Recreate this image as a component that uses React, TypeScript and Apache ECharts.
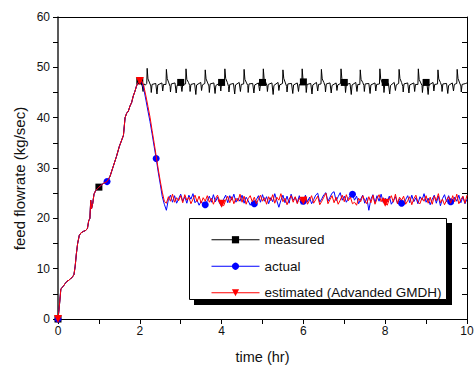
import React, { useEffect, useRef } from "react";
import * as echarts from "echarts";

const FONT = "'Liberation Sans', Arial, sans-serif";

// Shared start-up ramp (hr, kg/sec)
const rampHours = [0, 0.02, 0.04, 0.07, 0.12, 0.18, 0.22, 0.27, 0.3, 0.34, 0.39, 0.42, 0.45, 0.48, 0.52, 0.56, 0.62, 0.68, 0.72, 0.75, 0.78, 0.8, 0.82, 0.85, 0.88, 0.92, 1.0, 1.06, 1.12, 1.2, 1.27, 1.35, 1.43, 1.5, 1.56, 1.6, 1.64, 1.68, 1.72, 1.76, 1.8, 1.84, 1.88, 1.92, 1.96, 2.0];
const rampFlow = [0, 1.5, 3.2, 6.0, 6.4, 7.1, 7.5, 7.7, 8.0, 8.2, 8.8, 10.5, 13.0, 15.0, 16.6, 17.1, 17.4, 17.6, 18.0, 19.5, 20.0, 23.6, 21.9, 23.0, 24.8, 25.5, 26.2, 26.6, 27.0, 27.3, 28.3, 30.3, 32.3, 34.3, 35.6, 36.5, 40.0, 40.9, 41.3, 42.3, 43.0, 44.3, 45.2, 46.3, 47.0, 47.3];

// Measured flow after the ramp
const measuredHours = [
  2.03, 2.06, 2.08, 2.10, 2.14,
  2.17, 2.18, 2.20, 2.24, 2.27, 2.28, 2.30, 2.39, 2.42, 2.44, 2.54, 2.56, 2.58,
  2.64, 2.65, 2.67, 2.71, 2.74, 2.75, 2.77, 2.86, 2.89, 2.91, 3.00, 3.03, 3.05,
  3.12, 3.13, 3.15, 3.19, 3.22, 3.23, 3.25, 3.34, 3.37, 3.39, 3.49, 3.51, 3.53,
  3.59, 3.60, 3.62, 3.66, 3.69, 3.70, 3.72, 3.81, 3.84, 3.86, 3.96, 3.98, 4.00, 4.03,
  4.07, 4.08, 4.10, 4.14, 4.17, 4.18, 4.20, 4.29, 4.32, 4.34, 4.43, 4.46, 4.48,
  4.54, 4.55, 4.57, 4.61, 4.64, 4.65, 4.67, 4.76, 4.79, 4.81, 4.90, 4.93, 4.95, 5.00,
  5.01, 5.02, 5.04, 5.08, 5.11, 5.12, 5.14, 5.23, 5.26, 5.28, 5.38, 5.40, 5.42,
  5.49, 5.50, 5.52, 5.56, 5.59, 5.60, 5.62, 5.71, 5.74, 5.76, 5.85, 5.88, 5.90,
  5.96, 5.97, 5.99, 6.00, 6.03, 6.06, 6.07, 6.09, 6.18, 6.21, 6.23, 6.32, 6.35, 6.37,
  6.43, 6.44, 6.46, 6.50, 6.53, 6.54, 6.56, 6.65, 6.68, 6.70, 6.80, 6.82, 6.84,
  6.91, 6.92, 6.94, 6.98, 7.00, 7.02, 7.03, 7.05, 7.14, 7.17, 7.19, 7.28, 7.31, 7.33,
  7.38, 7.39, 7.41, 7.45, 7.48, 7.49, 7.51, 7.60, 7.63, 7.65, 7.75, 7.77, 7.79,
  7.86, 7.87, 7.89, 7.93, 7.96, 7.97, 7.99, 8.00, 8.08, 8.11, 8.13, 8.22, 8.25, 8.27,
  8.33, 8.34, 8.36, 8.40, 8.43, 8.44, 8.46, 8.55, 8.58, 8.60, 8.70, 8.72, 8.74,
  8.80, 8.81, 8.83, 8.87, 8.90, 8.91, 8.93, 9.00, 9.02, 9.05, 9.07, 9.17, 9.19, 9.21,
  9.28, 9.29, 9.31, 9.35, 9.38, 9.39, 9.41, 9.50, 9.53, 9.55, 9.64, 9.67, 9.69,
  9.75, 9.76, 9.78, 9.82, 9.85, 9.86, 9.88, 9.97, 10.00,
];
const measuredFlow = [
  46.8, 46.3, 45.2, 46.7, 46.5,
  46.8, 49.8, 47.7, 46.9, 46.3, 45.0, 46.6, 46.8, 44.7, 46.5, 46.9, 45.3, 46.6,
  46.6, 49.6, 47.8, 46.9, 46.2, 45.1, 46.7, 46.9, 44.9, 46.4, 47.0, 45.2, 46.6,
  46.7, 49.7, 47.6, 47.0, 46.4, 45.2, 46.6, 46.8, 44.6, 46.5, 47.0, 45.4, 46.5,
  46.8, 49.5, 47.7, 46.9, 46.3, 45.0, 46.7, 46.9, 44.8, 46.4, 46.9, 45.3, 47.0, 46.6,
  46.6, 49.7, 47.8, 47.0, 46.2, 45.1, 46.6, 46.8, 44.7, 46.5, 47.0, 45.2, 46.6,
  46.7, 49.6, 47.6, 46.9, 46.4, 45.0, 46.7, 46.8, 44.9, 46.5, 46.9, 45.3, 46.6, 47.0,
  46.7, 49.7, 47.7, 47.0, 46.3, 45.2, 46.6, 46.9, 44.6, 46.4, 47.0, 45.4, 46.5,
  46.8, 49.5, 47.8, 46.9, 46.2, 45.1, 46.7, 46.8, 44.8, 46.5, 46.9, 45.2, 46.6,
  46.6, 49.7, 47.6, 47.1, 46.9, 46.4, 45.0, 46.6, 46.8, 44.7, 46.5, 47.0, 45.3, 46.6,
  46.7, 49.6, 47.7, 47.0, 46.3, 45.1, 46.7, 46.9, 44.9, 46.4, 46.9, 45.4, 46.5,
  46.8, 49.7, 47.8, 46.9, 47.0, 46.3, 45.0, 46.6, 46.8, 44.6, 46.5, 47.0, 45.2, 46.6,
  46.6, 49.5, 47.6, 47.0, 46.4, 45.2, 46.7, 46.8, 44.8, 46.5, 46.9, 45.3, 46.6,
  46.7, 49.7, 47.7, 46.9, 46.3, 45.0, 46.6, 47.0, 46.8, 44.7, 46.4, 47.0, 45.4, 46.5,
  46.8, 49.6, 47.8, 47.0, 46.2, 45.1, 46.7, 46.9, 44.9, 46.5, 46.9, 45.2, 46.6,
  46.6, 49.7, 47.6, 46.9, 46.4, 45.0, 46.6, 47.0, 46.8, 44.6, 46.5, 47.0, 45.3, 46.6,
  46.7, 49.5, 47.7, 47.0, 46.3, 45.2, 46.7, 46.8, 44.8, 46.4, 46.9, 45.3, 46.6,
  46.8, 49.6, 47.8, 46.9, 46.3, 45.1, 46.6, 46.8, 46.9,
];

// Actual / estimated flow after the ramp, sampled every 0.05 hr
const steadyHours = [
  2.05, 2.1, 2.15, 2.2, 2.25, 2.3, 2.35, 2.4, 2.45, 2.5, 2.55, 2.6, 2.65, 2.7, 2.75, 2.8, 2.85, 2.9, 2.95,
  3.0, 3.05, 3.1, 3.15, 3.2, 3.25, 3.3, 3.35, 3.4, 3.45, 3.5, 3.55, 3.6, 3.65, 3.7, 3.75, 3.8, 3.85, 3.9, 3.95,
  4.0, 4.05, 4.1, 4.15, 4.2, 4.25, 4.3, 4.35, 4.4, 4.45, 4.5, 4.55, 4.6, 4.65, 4.7, 4.75, 4.8, 4.85, 4.9, 4.95,
  5.0, 5.05, 5.1, 5.15, 5.2, 5.25, 5.3, 5.35, 5.4, 5.45, 5.5, 5.55, 5.6, 5.65, 5.7, 5.75, 5.8, 5.85, 5.9, 5.95,
  6.0, 6.05, 6.1, 6.15, 6.2, 6.25, 6.3, 6.35, 6.4, 6.45, 6.5, 6.55, 6.6, 6.65, 6.7, 6.75, 6.8, 6.85, 6.9, 6.95,
  7.0, 7.05, 7.1, 7.15, 7.2, 7.25, 7.3, 7.35, 7.4, 7.45, 7.5, 7.55, 7.6, 7.65, 7.7, 7.75, 7.8, 7.85, 7.9, 7.95,
  8.0, 8.05, 8.1, 8.15, 8.2, 8.25, 8.3, 8.35, 8.4, 8.45, 8.5, 8.55, 8.6, 8.65, 8.7, 8.75, 8.8, 8.85, 8.9, 8.95,
  9.0, 9.05, 9.1, 9.15, 9.2, 9.25, 9.3, 9.35, 9.4, 9.45, 9.5, 9.55, 9.6, 9.65, 9.7, 9.75, 9.8, 9.85, 9.9, 9.95,
  10.0,
];
const actualFlow = [
  47.1, 45.6, 43.5, 41.3, 39.2, 36.8, 34.3, 31.9, 29.2, 26.8, 24.3, 22.8, 21.6, 23.8, 24.6, 23.2, 24.5, 23.0, 23.9,
  24.8, 23.4, 24.3, 23.0, 24.6, 23.8, 24.9, 23.1, 23.6, 22.6, 23.4, 22.8, 22.7, 23.5, 24.4, 23.2, 24.7, 23.3, 24.2, 23.0,
  22.4, 23.8, 24.6, 23.1, 24.5, 23.6, 24.8, 23.2, 24.0, 23.4, 24.6, 23.0, 24.2, 23.5, 22.6, 23.3, 22.9, 23.7, 24.5, 23.2,
  24.7, 23.4, 24.3, 22.9, 24.1, 23.3, 24.9, 23.5, 22.2, 23.6, 24.6, 23.1, 24.4, 23.0, 24.8, 23.6, 24.2, 23.1, 24.5, 22.8,
  23.4, 24.6, 23.3, 24.2, 22.9, 23.7, 24.6, 25.0, 23.2, 23.9, 24.7, 25.1, 23.4, 24.2, 25.0, 25.3, 23.5, 24.3, 25.1, 23.6,
  24.4, 23.2, 24.0, 24.5, 24.8, 23.6, 24.4, 22.9, 23.8, 24.6, 23.0, 24.1, 21.6, 23.8, 24.7, 23.1, 24.5, 23.4, 24.8, 23.2,
  24.0, 23.3, 24.4, 22.8, 23.5, 24.3, 23.0, 23.9, 23.0, 22.6, 23.7, 24.5, 23.1, 24.6, 23.3, 24.1, 22.9, 24.3, 23.6, 24.9,
  23.2, 24.0, 22.7, 23.8, 24.6, 23.0, 24.4, 22.5, 23.9, 24.7, 23.3, 24.5, 23.3, 22.8, 24.2, 23.4, 24.6, 23.1, 24.3, 22.9,
  23.8,
];
const estimatedFlow = [
  47.3, 46.2, 44.3, 42.2, 40.1, 37.5, 35.0, 32.4, 29.8, 27.4, 25.2, 23.4, 23.0, 24.3, 23.4, 24.8, 23.2, 24.1, 23.5,
  24.5, 23.1, 24.7, 23.6, 24.2, 22.9, 23.8, 24.6, 23.3, 24.4, 23.0, 24.1, 23.4, 24.5, 23.2, 24.0, 22.8, 23.9, 24.6, 23.5,
  22.9, 22.5, 23.6, 24.4, 23.1, 24.3, 22.9, 24.0, 23.4, 24.8, 23.2, 24.4, 22.8, 23.9, 24.5, 23.3, 24.2, 22.9, 23.8, 24.6,
  23.4, 24.1, 22.8, 24.3, 23.5, 24.7, 23.0, 24.2, 23.6, 24.9, 23.3, 24.0, 22.7, 23.8, 24.5, 23.2, 24.3, 22.9, 24.0, 23.4,
  23.5, 24.4, 22.8, 23.6, 24.5, 23.0, 23.7, 24.4, 22.7, 23.4, 24.2, 25.0, 22.9, 23.7, 24.5, 23.1, 24.2, 22.8, 23.6, 24.6,
  23.3, 24.7, 23.5, 24.2, 22.9, 23.2, 22.6, 24.0, 23.3, 24.5, 23.6, 22.9, 24.3, 23.1, 24.6, 22.8, 23.9, 24.7, 23.3, 24.1,
  23.1, 22.6, 23.8, 24.5, 23.2, 24.8, 22.9, 24.2, 23.6, 24.4, 22.8, 23.5, 24.3, 22.7, 23.9, 24.6, 23.2, 22.9, 24.1, 23.4,
  24.5, 23.0, 24.2, 22.8, 24.4, 23.5, 24.9, 23.1, 23.8, 22.7, 23.6, 24.3, 23.0, 24.5, 23.3, 24.8, 22.9, 23.7, 24.4, 23.0,
  24.6,
];

// Times at which each series shows its marker
const measuredMarkerHours = [0, 1, 2, 3, 4, 5, 6, 7, 8, 9];
const actualMarkerHours = [0, 1.2, 2.4, 3.6, 4.8, 6.0, 7.2, 8.4, 9.6];
const estimatedMarkerHours = [0, 2, 4, 6, 8];

const seriesNames = ["measured", "actual", "estimated (Advanded GMDH)"];
const xTicks = { min: 0, max: 10, interval: 2 };
const yTicks = { min: 0, max: 60, interval: 10 };

function zip(hours: number[], flow: number[]) {
  const n = Math.min(hours.length, flow.length);
  const out: number[][] = [];
  for (let i = 0; i < n; i++) out.push([hours[i], flow[i]]);
  return out;
}

function markerSize(list: number[], size: number) {
  return (value: number[]) =>
    list.some((h) => Math.abs(h - value[0]) < 1e-6) ? size : 0;
}

export default function App() {
  const ref = useRef<HTMLDivElement>(null);

  useEffect(() => {
    if (!ref.current) return;
    const chart = echarts.init(ref.current, undefined, { renderer: "svg" });

    const measuredData = zip(rampHours, rampFlow).concat(zip(measuredHours, measuredFlow));
    const actualData = zip(rampHours, rampFlow).concat(zip(steadyHours, actualFlow));
    const estimatedData = zip(rampHours, rampFlow).concat(zip(steadyHours, estimatedFlow));

    const axisText = { color: "#111", fontSize: 12, fontFamily: FONT };

    const option: any = {
      animation: false,
      backgroundColor: "#ffffff",
      textStyle: { fontFamily: FONT },
      grid: { left: 58, right: 7, top: 17, bottom: 46, containLabel: false, outerBoundsMode: "none" },
      xAxis: [
        {
          type: "value",
          ...xTicks,
          position: "bottom",
          axisLine: { show: true, onZero: false, lineStyle: { color: "#000", width: 1 } },
          axisTick: { show: true, length: 5, lineStyle: { color: "#000" } },
          minorTick: { show: true, splitNumber: 2, length: 5, lineStyle: { color: "#000" } },
          splitLine: { show: false },
          minorSplitLine: { show: false },
          axisLabel: { ...axisText, margin: 6 },
          name: "time (hr)",
          nameLocation: "middle",
          nameGap: 30.5,
          nameTextStyle: { fontSize: 14.5, color: "#111", fontFamily: FONT },
        },
        {
          type: "value",
          ...xTicks,
          position: "top",
          axisLine: { show: true, onZero: false, lineStyle: { color: "#000", width: 1 } },
          axisTick: { show: false },
          axisLabel: { show: false },
          splitLine: { show: false },
        },
      ],
      yAxis: [
        {
          type: "value",
          ...yTicks,
          position: "left",
          axisLine: { show: true, onZero: false, lineStyle: { color: "#222", width: 1.5 } },
          axisTick: { show: true, length: 5, lineStyle: { color: "#000" } },
          minorTick: { show: true, splitNumber: 2, length: 5, lineStyle: { color: "#000" } },
          splitLine: { show: false },
          minorSplitLine: { show: false },
          axisLabel: { ...axisText, margin: 8 },
        },
        {
          type: "value",
          ...yTicks,
          position: "right",
          axisLine: { show: true, onZero: false, lineStyle: { color: "#000", width: 1 } },
          axisTick: { show: true, inside: true, length: 5, lineStyle: { color: "#000" } },
          minorTick: { show: true, splitNumber: 2, length: 5, lineStyle: { color: "#000" } },
          axisLabel: { show: false },
          splitLine: { show: false },
        },
      ],
      legend: {
        orient: "vertical",
        left: 211,
        top: 232.75,
        padding: 0,
        itemWidth: 48,
        itemHeight: 9,
        itemGap: 12.5,
        selectedMode: false,
        z: 10,
        lineStyle: { width: 1 },
        textStyle: { fontSize: 13.5, color: "#111", fontFamily: FONT },
        data: seriesNames,
      },
      graphic: {
        elements: [
          {
            type: "rect",
            z: 5,
            shape: { x: 194, y: 223, width: 258, height: 82 },
            style: { fill: "#000" },
          },
          {
            type: "rect",
            z: 6,
            shape: { x: 189.5, y: 218.5, width: 257, height: 81 },
            style: { fill: "#fff", stroke: "#000", lineWidth: 1 },
          },
          {
            type: "text",
            x: 19,
            y: 178.5,
            rotation: Math.PI / 2,
            style: {
              text: "feed flowrate (kg/sec)",
              fontSize: 15,
              fontFamily: FONT,
              fill: "#111",
              textAlign: "center",
              textVerticalAlign: "middle",
            },
          },
        ],
      },
      series: [
        {
          type: "line",
          name: seriesNames[0],
          data: measuredData,
          symbol: "rect",
          symbolSize: markerSize(measuredMarkerHours, 7),
          showSymbol: true,
          showAllSymbol: true,
          lineStyle: { color: "#000", width: 1 },
          itemStyle: { color: "#000" },
          emphasis: { disabled: true },
          z: 2,
        },
        {
          type: "line",
          name: seriesNames[1],
          data: actualData,
          symbol: "circle",
          symbolSize: markerSize(actualMarkerHours, 7),
          showSymbol: true,
          showAllSymbol: true,
          lineStyle: { color: "#0000ff", width: 1 },
          itemStyle: { color: "#0000ff" },
          emphasis: { disabled: true },
          z: 3,
        },
        {
          type: "line",
          name: seriesNames[2],
          data: estimatedData,
          symbol: "triangle",
          symbolRotate: 180,
          symbolSize: markerSize(estimatedMarkerHours, 8),
          showSymbol: true,
          showAllSymbol: true,
          lineStyle: { color: "#ff0000", width: 1 },
          itemStyle: { color: "#ff0000" },
          emphasis: { disabled: true },
          z: 4,
        },
      ],
    };

    chart.setOption(option);
    return () => chart.dispose();
  }, []);

  return (
    <div
      ref={ref}
      style={{ position: "fixed", left: 0, top: 0, width: 474, height: 365, background: "#fff" }}
    />
  );
}
